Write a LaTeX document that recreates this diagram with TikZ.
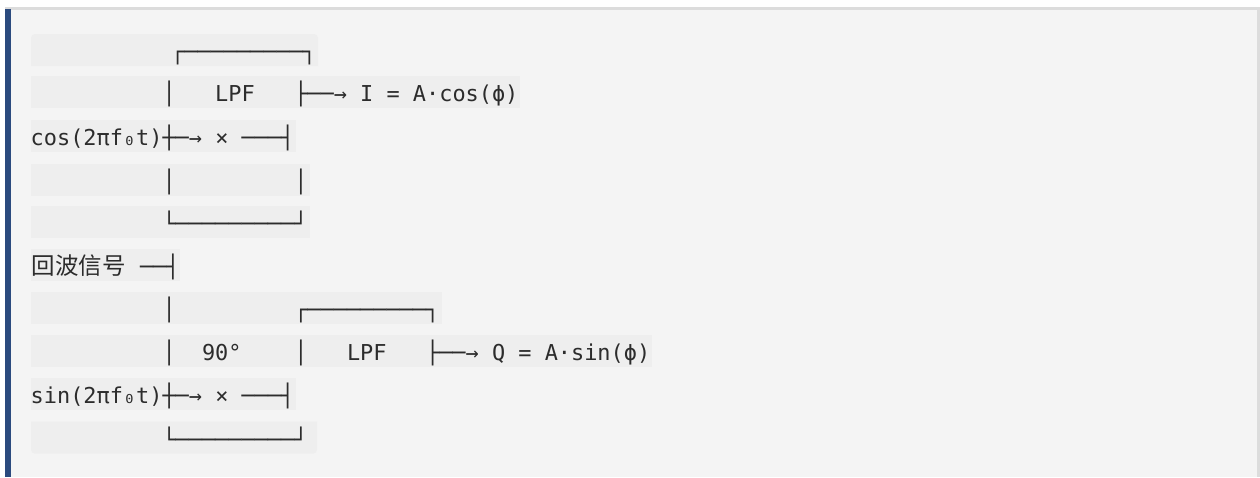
\documentclass[tikz,border=0pt]{standalone}
\usepackage{fontspec}
\newfontfamily\mono{DejaVu Sans Mono}
\newfontfamily\cjk{Noto Sans CJK SC}

\definecolor{pagebg}{HTML}{FFFFFF}
\definecolor{codebg}{HTML}{F4F4F4}
\definecolor{linebg}{HTML}{EEEEEE}
\definecolor{rulegray}{HTML}{DCDCDC}
\definecolor{barblue}{HTML}{2B4A7E}
\definecolor{ink}{HTML}{2C2C2C}

\tikzset{
  code/.style={font=\mono\fontsize{21.9}{26}\selectfont, text=ink,
               anchor=base west, inner sep=0pt, outer sep=0pt},
  cjktext/.style={font=\cjk\fontsize{23.5}{28}\selectfont, text=ink,
               anchor=base west, inner sep=0pt, outer sep=0pt},
  hl/.style={fill=linebg, draw=none},
}

% column origin 30.7pt, cell width 13.18pt
\newcommand{\cx}[1]{30.7+#1*13.18}

\begin{document}
\begin{tikzpicture}[x=1pt, y=-1pt]
  \useasboundingbox (0,0) rectangle (1260,477);
  \fill[pagebg] (0,0) rectangle (1260,477);

  % code block panel
  \fill[codebg] (5,7.3) rectangle (1260,477);
  \fill[rulegray] (5,7.3) rectangle (1260,9.7);
  \fill[rulegray] (1256.7,7.3) rectangle (1260,477);
  \fill[barblue] (5,8.5) rectangle (11,477);

  % line highlights
  \fill[hl, rounded corners=4pt] (31,66) -- (31,34) -- (318,34) -- (318,66);
  \fill[hl] (31,34+12) rectangle (318,66);
  \fill[hl] (31,76)    rectangle (520,108);
  \fill[hl] (31,120)   rectangle (296,152);
  \fill[hl] (31,163.5) rectangle (310,195.5);
  \fill[hl] (31,205.5) rectangle (310,237.5);
  \fill[hl] (31,249)   rectangle (180,281);
  \fill[hl] (31,291.5) rectangle (442,323.5);
  \fill[hl] (31,335)   rectangle (652,367);
  \fill[hl] (31,378)   rectangle (296,410);
  \fill[hl, rounded corners=4pt] (31,421.7) -- (31,453.7) -- (317,453.7) -- (317,421.7);
  \fill[hl] (31,421.7) rectangle (317,440);

  % row 1
  \node[code] (r1box) at (171.1,59.5) {┌─────────┐};
  % row 2
  \node[code] (r2l)   at ({\cx{10}},101.5) {│};
  \node[code] (r2lpf) at ({\cx{14}},101.5) {LPF};
  \node[code] (r2out) at ({\cx{20}},101.5) {├──→ I = A·cos(ϕ)};
  % row 3
  \node[code] (r3)    at ({\cx{0}},145.5) {cos(2πf₀t)┼─→ × ───┤};
  % row 4
  \node[code] (r4l)   at ({\cx{10}},189) {│};
  \node[code] (r4r)   at ({\cx{20}},189) {│};
  % row 5
  \node[code] (r5box) at ({\cx{10}},231) {└─────────┘};
  % row 6
  \node[cjktext] (r6txt) at (31.7,274.5) {回波信号};
  \node[code] (r6line) at (140,274.5) {──┤};
  % row 7
  \node[code] (r7l)   at ({\cx{10}},317) {│};
  \node[code] (r7box) at ({\cx{20}},317) {┌─────────┐};
  % row 8
  \node[code] (r8l)   at ({\cx{10}},360.5) {│};
  \node[code] (r8deg) at ({\cx{13}},360.5) {90°};
  \node[code] (r8m)   at ({\cx{20}},360.5) {│};
  \node[code] (r8lpf) at ({\cx{24}},360.5) {LPF};
  \node[code] (r8out) at ({\cx{30}},360.5) {├──→ Q = A·sin(ϕ)};
  % row 9
  \node[code] (r9)    at ({\cx{0}},403.5) {sin(2πf₀t)┼─→ × ───┤};
  % row 10
  \node[code] (r10box) at ({\cx{10}},447) {└─────────┘};
\end{tikzpicture}
\end{document}
